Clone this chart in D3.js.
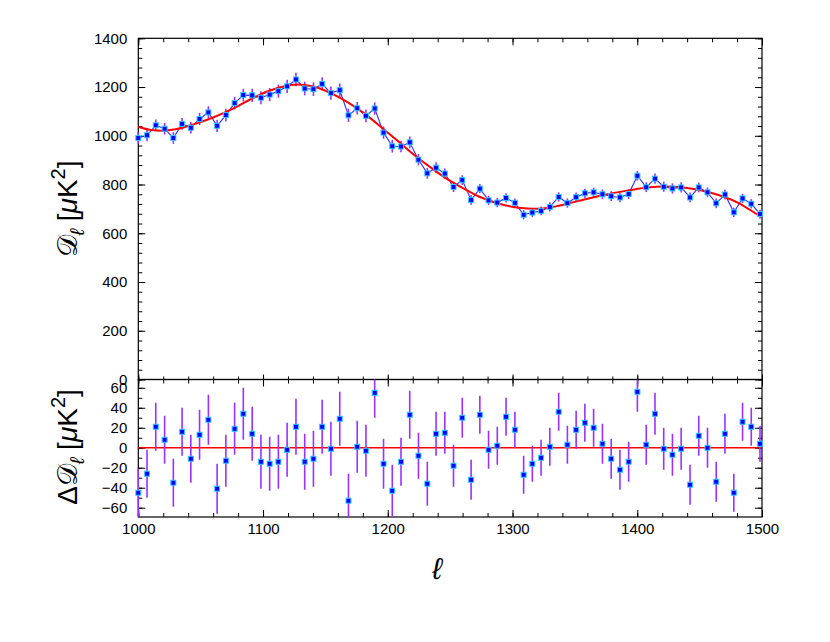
<!DOCTYPE html>
<html>
<head>
<meta charset="utf-8">
<script src="https://cdn.jsdelivr.net/npm/d3@7"></script>
<style>
    body { margin: 0; background: #fff; }
    svg text { font-family: "Liberation Sans", Arial, Helvetica, sans-serif; fill: #000; }
</style>
</head>
<body>
<svg id="chart" width="830" height="642"></svg>
<script>
(function () {
    'use strict';

    // bin centres (multipole l)
    var ell = [
        1000.0, 1007.0, 1014.0, 1021.1, 1028.1, 1035.1, 1042.1, 1049.1, 1056.2, 1063.2,
        1070.2, 1077.2, 1084.2, 1091.3, 1098.3, 1105.3, 1112.3, 1119.3, 1126.4, 1133.4,
        1140.4, 1147.4, 1154.4, 1161.5, 1168.5, 1175.5, 1182.5, 1189.5, 1196.6, 1203.6,
        1210.6, 1217.6, 1224.6, 1231.7, 1238.7, 1245.7, 1252.7, 1259.7, 1266.8, 1273.8,
        1280.8, 1287.8, 1294.8, 1301.9, 1308.9, 1315.9, 1322.9, 1329.9, 1337.0, 1344.0,
        1351.0, 1358.0, 1365.0, 1372.1, 1379.1, 1386.1, 1393.1, 1400.1, 1407.2, 1414.2,
        1421.2, 1428.2, 1435.2, 1442.3, 1449.3, 1456.3, 1463.3, 1470.3, 1477.4, 1484.4,
        1491.4, 1498.4
    ];

    // measured D_l [muK^2]
    var dl = [
        991, 1002, 1043, 1029, 991, 1049, 1033, 1069, 1096, 1041,
        1085, 1134, 1167, 1166, 1156, 1169, 1183, 1203, 1231, 1194,
        1191, 1213, 1175, 1187, 1084, 1113, 1082, 1112, 1013, 957,
        956, 973, 902, 846, 869, 845, 790, 818, 737, 783,
        735, 726, 745, 725, 676, 685, 692, 708, 749, 724,
        748, 764, 768, 760, 752, 747, 761, 836, 789, 824,
        791, 784, 788, 747, 788, 768, 723, 759, 686, 743,
        721, 679
    ];

    // residuals against best fit [muK^2]
    var resid = [
        -45, -26, 21, 8, -35, 16, -11, 13, 28, -41,
        -13, 19, 34, 14, -14, -16, -14, -2, 21, -14,
        -11, 21, -1, 29, -53, 1, -3, 55, -16, -43,
        -14, 33, -8, -36, 14, 15, -18, 30, -32, 33,
        -2, 2, 31, 18, -27, -16, -10, 1, 36, 3,
        18, 25, 20, 4, -11, -22, -14, 56, 3, 34,
        -1, -7, -1, -37, 12, 0, -34, 14, -45, 26,
        21, 4
    ];

    // 1 sigma errors [muK^2]
    var err = [
        24, 24, 24, 24, 24, 24, 24, 25, 25, 25,
        26, 26, 26, 27, 27, 27, 27, 27, 28, 28,
        28, 27, 27, 27, 27, 26, 26, 25, 25, 26,
        24, 24, 23, 22, 22, 21, 21, 20, 20, 19,
        19, 19, 19, 18, 19, 18, 18, 19, 19, 19,
        19, 19, 19, 20, 20, 20, 20, 20, 20, 21,
        21, 21, 21, 20, 20, 20, 20, 20, 19, 19,
        19, 18
    ];

    // best fit model
    var modelEll = [1000, 1010, 1019, 1030, 1045, 1060, 1073, 1090, 1105, 1119, 1128, 1140,
        1161, 1180, 1196, 1210, 1223, 1236, 1249, 1261, 1273, 1290, 1307, 1316, 1324, 1338,
        1353, 1373, 1393, 1410, 1420, 1440, 1459, 1480, 1497, 1500];
    var modelDl = [1037, 1024, 1021, 1027, 1048, 1075, 1104, 1150, 1185, 1205, 1210, 1202,
        1158, 1096, 1030, 970, 914, 864, 818, 783, 751, 720, 704, 701, 702, 714,
        733, 757, 776, 789, 792, 786, 766, 727, 675, 666];

    var yTopTicks = [0, 200, 400, 600, 800, 1000, 1200, 1400];
    var yBotTicks = [-60, -40, -20, 0, 20, 40, 60];
    var xTicks = [1000, 1100, 1200, 1300, 1400, 1500];

    var left = 138.3,
        right = 762,
        topY = 38.3,
        midY = 379.5,
        botY = 517,
        blue = '#0000ff',
        edge = '#33ccff',
        bar = '#9b30ff',
        red = '#ff0000';

    var svg = d3.select('#chart');

    var x = d3.scaleLinear().domain([1000, 1500]).range([left, right]);
    var yTop = d3.scaleLinear().domain([0, 1400]).range([midY, topY]);
    var yBot = d3.scaleLinear().domain([-69.3, 68.3]).range([botY, midY]);

    var points = ell.map(function (l, i) {
        return {l: l, d: dl[i], r: resid[i], e: err[i]};
    });

    svg.append('clipPath')
        .attr('id', 'clip-bot')
        .append('rect')
        .attr('x', left - 5)
        .attr('y', midY)
        .attr('width', right - left + 10)
        .attr('height', botY - midY);

    function styleAxis(g) {
        g.select('.domain').remove();
        g.selectAll('.tick line').attr('stroke', '#000').attr('stroke-width', 1);
        g.selectAll('.tick text').attr('font-size', 15).attr('fill', '#000');
    }

    // one side of a panel: labelled majors + bare minors
    function side(axisFn, scale, tx, ty, major, minor, majorLen, minorLen, labels) {
        var g = svg.append('g').attr('transform', 'translate(' + tx + ',' + ty + ')');

        g.append('g')
            .call(axisFn(scale).tickValues(minor).tickFormat('').tickSizeInner(-minorLen).tickSizeOuter(0))
            .call(styleAxis);

        var a = axisFn(scale).tickValues(major).tickSizeInner(-majorLen).tickSizeOuter(0);
        if (labels) {
            a.tickPadding(labels).tickFormat(d3.format('d'));
        } else {
            a.tickFormat('');
        }
        g.append('g').call(a).call(styleAxis);

        return g;
    }

    var xMinor = d3.range(1000, 1501, 20);
    var yTopMinor = d3.range(0, 1401, 40);
    var yBotMinor = d3.range(-60, 61, 10);

    // top panel frame and ticks
    side(d3.axisLeft, yTop, left, 0, yTopTicks, yTopMinor, 7, 4, 11);
    side(d3.axisRight, yTop, right, 0, yTopTicks, yTopMinor, 7, 4, 0);
    side(d3.axisTop, x, 0, topY, xTicks, xMinor, 7, 4, 0);
    side(d3.axisBottom, x, 0, midY, xTicks, xMinor, 5, 3, 0);

    // bottom panel frame and ticks
    side(d3.axisLeft, yBot, left, 0, yBotTicks, yBotMinor, 7, 4, 11);
    side(d3.axisRight, yBot, right, 0, yBotTicks, yBotMinor, 7, 4, 0);
    side(d3.axisTop, x, 0, midY, xTicks, xMinor, 7, 4, 0);
    side(d3.axisBottom, x, 0, botY, xTicks, xMinor, 7, 4, 6);

    svg.append('rect')
        .attr('x', left).attr('y', topY)
        .attr('width', right - left).attr('height', midY - topY)
        .attr('fill', 'none').attr('stroke', '#000').attr('stroke-width', 1.2);
    svg.append('rect')
        .attr('x', left).attr('y', midY)
        .attr('width', right - left).attr('height', botY - midY)
        .attr('fill', 'none').attr('stroke', '#000').attr('stroke-width', 1.2);

    // top panel: data
    var top = svg.append('g');

    top.selectAll('line.err')
        .data(points)
        .enter()
        .append('line')
        .attr('class', 'err')
        .attr('x1', function (d) { return x(d.l); })
        .attr('x2', function (d) { return x(d.l); })
        .attr('y1', function (d) { return yTop(d.d - d.e); })
        .attr('y2', function (d) { return yTop(d.d + d.e); })
        .attr('stroke', bar)
        .attr('stroke-width', 1.6);

    top.append('path')
        .datum(points)
        .attr('fill', 'none')
        .attr('stroke', '#2b2bff')
        .attr('stroke-width', 1.1)
        .attr('d', d3.line()
            .x(function (d) { return x(d.l); })
            .y(function (d) { return yTop(d.d); }));

    top.append('path')
        .datum(modelEll.map(function (l, i) { return [l, modelDl[i]]; }))
        .attr('fill', 'none')
        .attr('stroke', red)
        .attr('stroke-width', 2)
        .attr('d', d3.line()
            .curve(d3.curveMonotoneX)
            .x(function (d) { return x(d[0]); })
            .y(function (d) { return yTop(d[1]); }));

    top.selectAll('rect.pt')
        .data(points)
        .enter()
        .append('rect')
        .attr('class', 'pt')
        .attr('x', function (d) { return x(d.l) - 2.5; })
        .attr('y', function (d) { return yTop(d.d) - 2.5; })
        .attr('width', 5)
        .attr('height', 5)
        .attr('fill', blue)
        .attr('stroke', edge)
        .attr('stroke-width', 1);

    // bottom panel: residuals
    var bot = svg.append('g');

    bot.append('line')
        .attr('x1', left).attr('x2', right)
        .attr('y1', yBot(0)).attr('y2', yBot(0))
        .attr('stroke', red)
        .attr('stroke-width', 1.6);

    bot.append('g')
        .attr('clip-path', 'url(#clip-bot)')
        .selectAll('line')
        .data(points)
        .enter()
        .append('line')
        .attr('x1', function (d) { return x(d.l); })
        .attr('x2', function (d) { return x(d.l); })
        .attr('y1', function (d) { return yBot(d.r - d.e); })
        .attr('y2', function (d) { return yBot(d.r + d.e); })
        .attr('stroke', bar)
        .attr('stroke-width', 1.6);

    bot.selectAll('rect.pt')
        .data(points)
        .enter()
        .append('rect')
        .attr('class', 'pt')
        .attr('x', function (d) { return x(d.l) - 2.5; })
        .attr('y', function (d) { return yBot(d.r) - 2.5; })
        .attr('width', 5)
        .attr('height', 5)
        .attr('fill', blue)
        .attr('stroke', edge)
        .attr('stroke-width', 1);

    // axis titles
    function yTitle(cx, cy, prefix) {
        var t = svg.append('text')
            .attr('transform', 'translate(' + cx + ',' + cy + ') rotate(-90)')
            .attr('text-anchor', 'middle')
            .attr('font-size', 28);
        t.append('tspan').text(prefix + '\uD835\uDC9F');
        t.append('tspan').attr('dy', 7).attr('font-size', 20).attr('font-style', 'italic').text('\u2113');
        t.append('tspan').attr('dy', -7).text('  [');
        t.append('tspan').attr('font-style', 'italic').text('\u03BC');
        t.append('tspan').text('K');
        t.append('tspan').attr('dy', -12).attr('font-size', 20).text('2');
        t.append('tspan').attr('dy', 12).text(']');
    }

    yTitle(77, 209, '');
    yTitle(77, 447, '\u0394');

    svg.append('text')
        .attr('x', 437)
        .attr('y', 579)
        .attr('text-anchor', 'middle')
        .attr('font-size', 30)
        .attr('font-style', 'italic')
        .text('\u2113');
}());
</script>
</body>
</html>
